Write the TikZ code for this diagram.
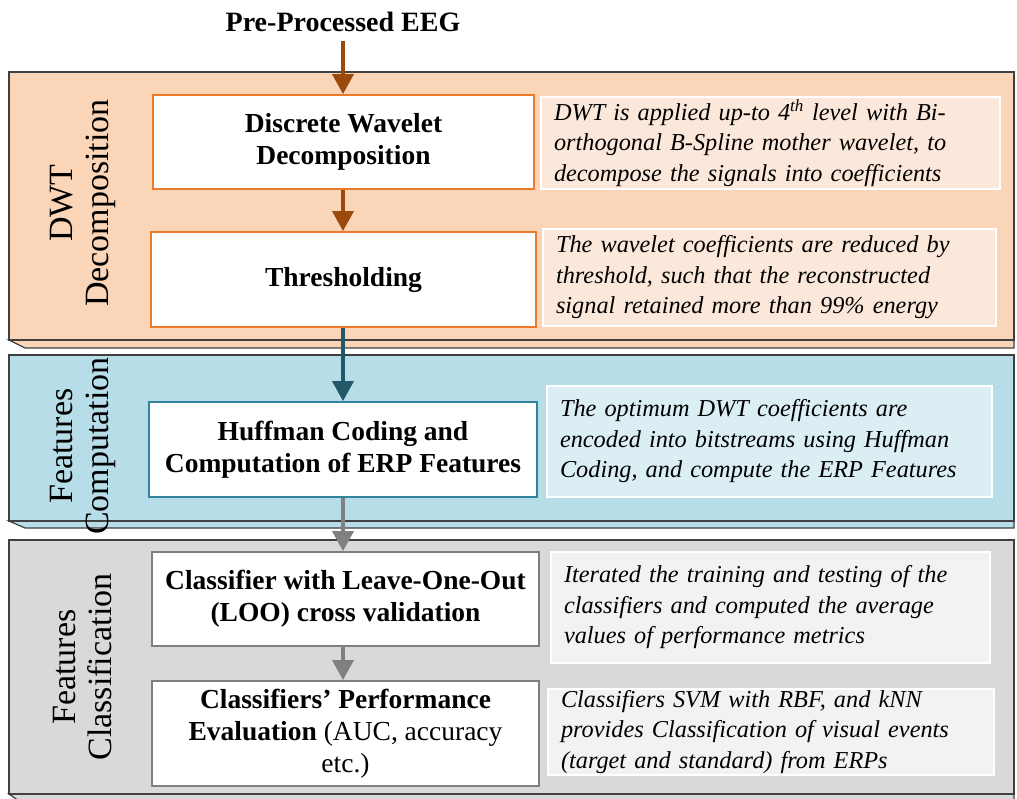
\documentclass[tikz,border=0pt]{standalone}
\usepackage{fontspec}
\setmainfont{Liberation Serif}
\usetikzlibrary{arrows.meta,calc}
\definecolor{orpanel}{HTML}{FAD5B8}
\definecolor{ordesc}{HTML}{FCE8DB}
\definecolor{orline}{HTML}{EC7A28}
\definecolor{orarrow}{HTML}{9A4A0C}
\definecolor{blpanel}{HTML}{B7DDE8}
\definecolor{bldesc}{HTML}{DAEEF3}
\definecolor{blline}{HTML}{31849B}
\definecolor{blarrow}{HTML}{215968}
\definecolor{grpanel}{HTML}{D9D9D9}
\definecolor{grdesc}{HTML}{F2F2F2}
\definecolor{grline}{HTML}{7F7F7F}
\definecolor{grarrow}{HTML}{808080}
\definecolor{frame}{HTML}{404040}
\begin{document}
\begin{tikzpicture}[x=1pt,y=-1pt,
  panelframe/.style={draw=frame, line width=1.2pt},
  mainbox/.style={draw, fill=white, line width=1.8pt, align=center, inner sep=2pt,
    font=\bfseries\fontsize{27.5}{32}\selectfont},
  descbox/.style={draw=white, line width=1.5pt, align=left, inner xsep=12pt, inner ysep=0pt,
    font=\itshape\fontsize{24.3}{30.5}\selectfont},
  flowarrow/.style={line width=3.6pt, -{Triangle[length=20pt,width=21pt]}},
  sidelabel/.style={rotate=90, align=center, font=\fontsize{34}{36}\selectfont}]
\useasboundingbox (0,0) rectangle (1017,799);
% panels
\fill[orpanel] (9,72) rectangle (1014,340);
\filldraw[fill=orpanel, panelframe] (9,340) -- (25,348) -- (1014,348) -- (1014,340) -- cycle;
\draw[panelframe] (9,72) rectangle (1014,340);
\fill[blpanel] (9,355) rectangle (1014,521);
\filldraw[fill=blpanel, panelframe] (9,521) -- (25,528) -- (1014,528) -- (1014,521) -- cycle;
\draw[panelframe] (9,355) rectangle (1014,521);
\fill[grpanel] (9,540) rectangle (1014,794);
\filldraw[fill=grpanel, panelframe] (9,794) -- (19,801) -- (1014,801) -- (1014,794) -- cycle;
\draw[panelframe] (9,540) rectangle (1014,794);
% side labels
\node[sidelabel] (lab1) at (83,203) {DWT\\Decomposition};
\node[sidelabel] (lab2) at (83,446) {Features\\Computation};
\node[sidelabel] (lab3) at (83,667) {Features\\Classification};
% title
\node[font=\bfseries\fontsize{28}{30}\selectfont] (title) at (343,22) {Pre-Processed EEG};
% main boxes
\node[mainbox, draw=orline, minimum width=381pt, minimum height=94pt] (dwd) at (343.5,142)
  {Discrete Wavelet\\Decomposition};
\node[mainbox, draw=orline, minimum width=385pt, minimum height=95pt] (thr) at (343.5,279.5)
  {Thresholding};
\node[mainbox, draw=blline, minimum width=388pt, minimum height=95pt] (huf) at (343,449.5)
  {Huffman Coding and\\Computation of ERP Features};
\node[mainbox, draw=grline, minimum width=387pt, minimum height=94pt] (loo) at (345.5,599)
  {Classifier with Leave-One-Out\\(LOO) cross validation};
\node[mainbox, draw=grline, minimum width=387pt, minimum height=105pt] (perf) at (345.5,733.5)
  {Classifiers’ Performance\\Evaluation \mdseries(AUC, accuracy\\\mdseries etc.)};
% description boxes
\node[descbox, fill=ordesc, minimum width=459pt, minimum height=92pt, text width=433pt] (d1) at (770.5,143)
  {DWT is applied up-to 4\textsuperscript{th} level with Bi-\\orthogonal B-Spline mother wavelet, to\\decompose the signals into coefficients};
\node[descbox, fill=ordesc, minimum width=453pt, minimum height=97pt, text width=427pt] (d2) at (769.5,277.5)
  {The wavelet coefficients are reduced by\\threshold, such that the reconstructed\\signal retained more than 99\% energy};
\node[descbox, fill=bldesc, minimum width=445pt, minimum height=111pt, text width=419pt] (d3) at (769.5,441.5)
  {The optimum DWT coefficients are\\encoded into bitstreams using Huffman\\Coding, and compute the ERP Features};
\node[descbox, fill=grdesc, minimum width=439pt, minimum height=111pt, text width=413pt] (d4) at (770.5,607.5)
  {Iterated the training and testing of the\\classifiers and computed the average\\values of performance metrics};
\node[descbox, fill=grdesc, minimum width=446pt, minimum height=86pt, text width=420pt] (d5) at (771,732)
  {Classifiers SVM with RBF, and kNN\\provides Classification of visual events\\(target and standard) from ERPs};
% arrows
\coordinate (start) at ([yshift=-6pt]title.south);
\draw[flowarrow, orarrow] (start) -- (start |- dwd.north);
\draw[flowarrow, orarrow] (dwd.south -| start) -- (thr.north -| start);
\draw[flowarrow, blarrow] (thr.south -| start) -- (huf.north -| start);
\draw[flowarrow, grarrow] (huf.south -| start) -- (loo.north -| start);
\draw[flowarrow, grarrow] (loo.south -| start) -- (perf.north -| start);
\end{tikzpicture}
\end{document}
